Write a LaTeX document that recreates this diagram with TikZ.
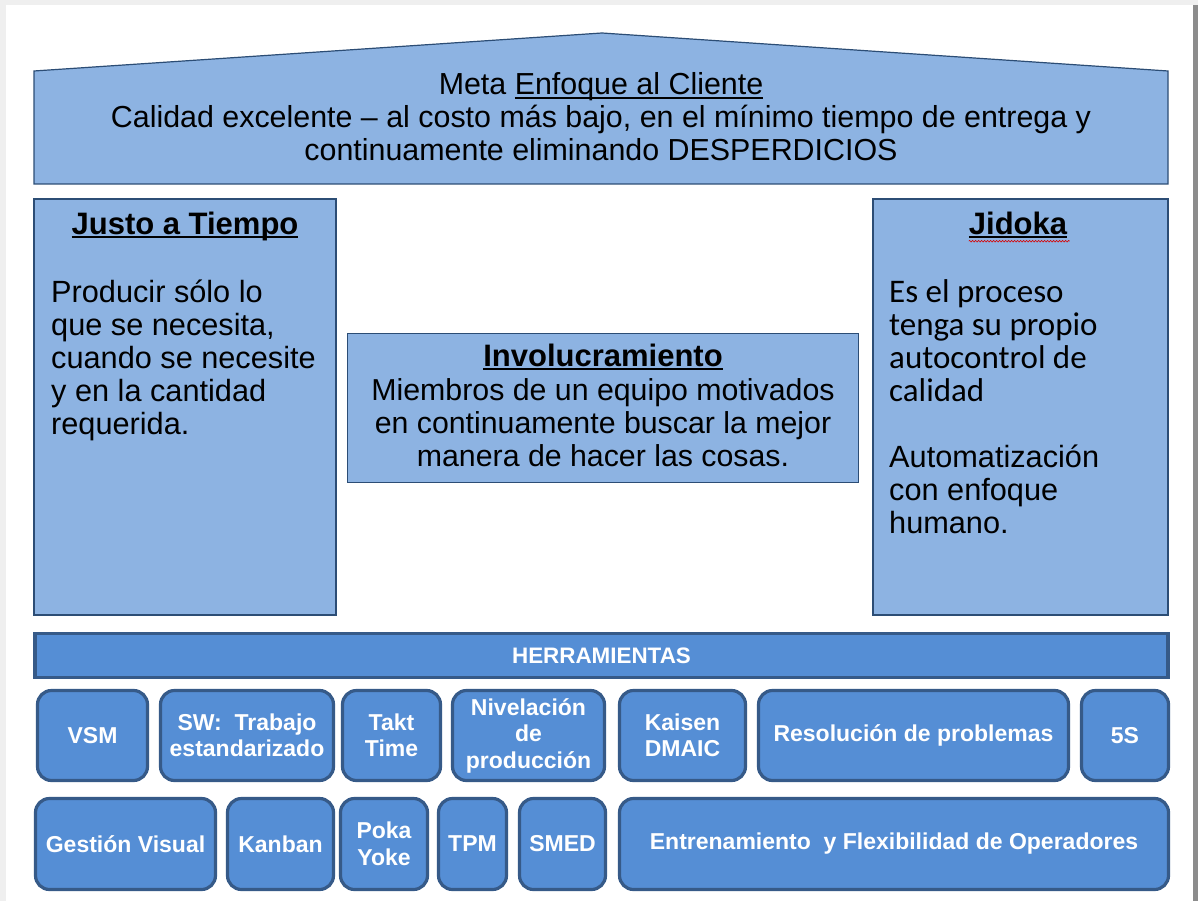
\documentclass[tikz,border=0pt]{standalone}
\usepackage{fontspec}
\setmainfont{Liberation Sans}
\newfontfamily\calib{Carlito}
\usetikzlibrary{decorations.pathmorphing}
\definecolor{lightfill}{HTML}{8DB3E2}
\definecolor{thinedge}{HTML}{2C4D75}
\definecolor{toolfill}{HTML}{558ED5}
\definecolor{tooledge}{HTML}{365A88}
\definecolor{framegray}{HTML}{EFEFEF}
\definecolor{shadowgray}{HTML}{8C8C8C}
\newcommand\myul[2][-4pt]{\setbox0\hbox{#2}\rlap{\rule[#1]{\wd0}{1.6pt}}\box0}
\newcommand\tb[6]{\node[tool, minimum width={(#4)-(#2)-3}, minimum height={(#5)-(#3)-3}] (#1) at ({(#2+#4)/2},{(#3+#5)/2}) {#6};}
\begin{document}
\begin{tikzpicture}[x=1pt,y=-1pt,
  part/.style={draw=thinedge, line width=1.2pt, fill=lightfill},
  box/.style={part, inner sep=0pt},
  tool/.style={draw=tooledge, line width=3.2pt, fill=toolfill, rounded corners=14pt, inner sep=0pt,
    text=white, font=\fontsize{23}{26.5}\selectfont\bfseries, align=center},
  body/.style={font=\fontsize{30.7}{33}\selectfont, align=left, inner sep=0pt, anchor=north west},
  title/.style={font=\fontsize{31}{33}\selectfont\bfseries, inner sep=0pt, anchor=base}
]
\useasboundingbox (0,0) rectangle (1198,901);
% slide frame
\fill[framegray] (0,0) rectangle (1198,901);
\fill[white] (6,5) rectangle (1193,901);
\fill[shadowgray] (1193,5) rectangle (1198,901);

% roof and goal
\draw[part] (34,184) -- (34,71) -- (602,33) -- (1168,71) -- (1168,184) -- cycle;
\node[font=\fontsize{30.4}{33}\selectfont, align=center, inner sep=0pt] (meta) at (601,117)
  {Meta \myul{Enfoque al Cliente}\\
   Calidad excelente -- al costo más bajo, en el mínimo tiempo de entrega y\\
   continuamente eliminando DESPERDICIOS};

% pillars
\node[box, minimum width=302, minimum height=416] (jit) at (185,407) {};
\node[box, minimum width=295, minimum height=416] (jid) at (1020.5,407) {};
\node[box, minimum width=511, minimum height=149] (inv) at (603,408) {};

\node[title] (jitT) at (185,234) {\myul{Justo a Tiempo}};
\node[body] (jitB) at (51,280) {Producir sólo lo\\que se necesita,\\cuando se necesite\\y en la cantidad\\requerida.};

\node[title] (jidT) at (1018,234) {\myul{Jidoka}};
\draw[red!85!black, line width=0.6pt, decoration={snake, amplitude=0.8pt, segment length=3pt}, decorate]
  (jidT.south west) ++(0,3) coordinate (sq1) -- ++(101,0) coordinate (sq2);
\node[body, font=\calib\fontsize{33}{33}\selectfont] (jidB1) at (889,279) {Es el proceso\\tenga su propio\\autocontrol de\\calidad};
\node[body] (jidB2) at (889,445) {Automatización\\con enfoque\\humano.};

\node[title] (invT) at (603,366) {\myul{Involucramiento}};
\node[font=\fontsize{30.3}{33}\selectfont, align=center, inner sep=0pt, anchor=north] (invB) at (603,378)
  {Miembros de un equipo motivados\\en continuamente buscar la mejor\\manera de hacer las cosas.};

% tools bar
\node[draw=tooledge, line width=3.2pt, fill=toolfill, minimum width=1133, minimum height=44, inner sep=0pt,
  text=white, font=\fontsize{22.4}{24}\selectfont\bfseries] (herr) at (601.5,655.5) {HERRAMIENTAS};

% tools row 1
\tb{vsm}{36}{689}{149}{782}{VSM}
\tb{sw}{159}{689}{335}{782}{SW:\ \ Trabajo\\estandarizado}
\tb{takt}{341}{689}{442}{782}{Takt\\Time}
\tb{niv}{451}{689}{606}{782}{Nivelación\\de\\producción}
\tb{kai}{618}{689}{747}{782}{Kaisen\\DMAIC}
\tb{res}{757}{689}{1070}{782}{Resolución de problemas}
\tb{fives}{1080}{689}{1170}{782}{5S}
% tools row 2
\tb{gv}{34}{797}{217}{891}{Gestión Visual}
\tb{kan}{226}{797}{335}{891}{Kanban}
\tb{poka}{339}{797}{429}{891}{Poka\\Yoke}
\tb{tpm}{437}{797}{508}{891}{TPM}
\tb{smed}{518}{797}{607}{891}{SMED}
\tb{ent}{618}{797}{1170}{891}{Entrenamiento\ \ y Flexibilidad de Operadores}
\end{tikzpicture}
\end{document}
